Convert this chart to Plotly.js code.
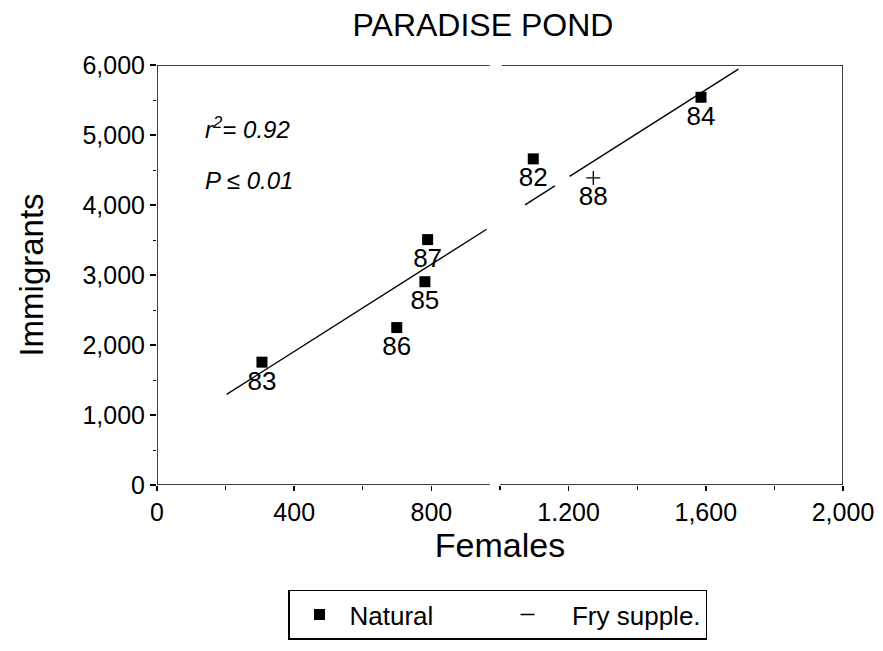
<!DOCTYPE html>
<html>
<head>
<meta charset="utf-8">
<script src="https://cdn.plot.ly/plotly-3.0.1.min.js"></script>
<style>html,body{margin:0;padding:0;background:#fff;}#chart{width:883px;height:651px;}</style>
</head>
<body>
<div id="chart"></div>
<script>
// Natural immigration years
const naturalYears = ["82", "83", "84", "85", "86", "87"];
const naturalFemales = [1097, 306, 1586, 781, 699, 789];
const naturalImmigrants = [4659, 1755, 5539, 2904, 2249, 3506];

// Fry supplemented year
const fryYears = ["88"];
const fryFemales = [1272];
const fryImmigrants = [4387];

// Regression line (with its printed gaps)
const fitFemales = [203, 961, null, 1073, 1160, null, 1203, 1695];
const fitImmigrants = [1294, 3654, null, 4003, 4274, null, 4408, 5940];

// Axis ticks
const xTickVals = [0, 400, 800, 1200, 1600, 2000];
const xTickText = ["0", "400", "800", "1.200", "1,600", "2,000"];
const yTickVals = [0, 1000, 2000, 3000, 4000, 5000, 6000];
const yTickText = ["0", "1,000", "2,000", "3,000", "4,000", "5,000", "6,000"];

const FONT = "Liberation Sans, Arial, sans-serif";
const ink = "#000";

const traces = [
  {
    x: fitFemales, y: fitImmigrants, mode: "lines", type: "scatter",
    line: {color: ink, width: 1.4}, showlegend: false, hoverinfo: "skip", connectgaps: false
  },
  {
    x: naturalFemales, y: naturalImmigrants, text: naturalYears,
    mode: "markers+text", type: "scatter", textposition: "bottom center",
    textfont: {family: FONT, size: 26, color: ink},
    marker: {symbol: "square", size: 11, color: ink},
    showlegend: false, cliponaxis: false
  },
  {
    x: fryFemales, y: fryImmigrants, text: fryYears,
    mode: "markers+text", type: "scatter", textposition: "bottom center",
    textfont: {family: FONT, size: 26, color: ink},
    marker: {symbol: "cross-thin-open", size: 10, color: ink, line: {color: ink, width: 1.3}},
    showlegend: false, cliponaxis: false
  },
  {
    x: [null], y: [null], name: "Natural", mode: "markers", type: "scatter",
    marker: {symbol: "square", size: 11, color: ink}
  },
  {
    x: [null], y: [null], name: "\u00a0\u00a0Fry supple.", mode: "markers", type: "scatter",
    marker: {symbol: "line-ew-open", size: 10, color: ink, line: {color: ink, width: 1.5}}
  }
];

const frameLine = {color: ink, width: 1.5};
const layout = {
  width: 883, height: 651,
  margin: {l: 157, r: 40, t: 65, b: 161},
  paper_bgcolor: "#fff", plot_bgcolor: "#fff",
  font: {family: FONT, color: ink},
  title: {
    text: "PARADISE POND", font: {family: FONT, size: 32, color: ink},
    x: 0.547, xref: "container", xanchor: "center",
    y: 0.962, yref: "container", yanchor: "middle"
  },
  xaxis: {
    range: [0, 2000], showgrid: false, zeroline: false, showline: false,
    tickvals: xTickVals, ticktext: xTickText,
    ticks: "outside", ticklen: 5, tickwidth: 1.5, tickcolor: ink,
    tickfont: {family: FONT, size: 25, color: ink},
    minor: {dtick: 200, tick0: 0, ticks: "outside", ticklen: 4, tickwidth: 1.2, tickcolor: ink},
    title: {text: "Females", font: {family: FONT, size: 34, color: ink}, standoff: 8},
    fixedrange: true
  },
  yaxis: {
    range: [0, 6000], showgrid: false, zeroline: false, showline: false,
    tickvals: yTickVals, ticktext: yTickText,
    ticks: "outside", ticklen: 6, tickwidth: 1.5, tickcolor: ink,
    tickfont: {family: FONT, size: 25, color: ink},
    minor: {dtick: 500, tick0: 0, ticks: "outside", ticklen: 3, tickwidth: 1, tickcolor: ink},
    title: {text: "Immigrants", font: {family: FONT, size: 33, color: ink}, standoff: 28},
    fixedrange: true
  },
  showlegend: true,
  legend: {
    orientation: "h", x: 0.191, xanchor: "left", y: -0.249, yanchor: "top",
    xref: "paper", yref: "paper",
    bordercolor: ink, borderwidth: 1.5, bgcolor: "#fff",
    font: {family: FONT, size: 26, color: ink},
    entrywidth: 143, itemwidth: 50
  },
  shapes: [
    {type: "line", xref: "x", yref: "y", x0: 0, x1: 0, y0: 0, y1: 6000, line: frameLine},
    {type: "line", xref: "x", yref: "y", x0: 0, x1: 970, y0: 0, y1: 0, line: frameLine},
    {type: "line", xref: "x", yref: "y", x0: 1000, x1: 2000, y0: 0, y1: 0, line: frameLine},
    {type: "line", xref: "x", yref: "y", x0: 0, x1: 970, y0: 6000, y1: 6000, line: frameLine},
    {type: "line", xref: "x", yref: "y", x0: 1005, x1: 2000, y0: 6000, y1: 6000, line: frameLine},
    {type: "line", xref: "x", yref: "y", x0: 2000, x1: 2000, y0: 0, y1: 6000, line: frameLine}
  ],
  annotations: [
    {text: "<i>r<sup>2</sup>= 0.92</i>", xref: "paper", yref: "paper", x: 0.067, y: 0.85,
     xanchor: "left", yanchor: "middle", showarrow: false, font: {family: FONT, size: 24, color: ink}},
    {text: "<i>P \u2264 0.01</i>", xref: "paper", yref: "paper", x: 0.067, y: 0.725,
     xanchor: "left", yanchor: "middle", showarrow: false, font: {family: FONT, size: 24, color: ink}}
  ]
};

Plotly.newPlot("chart", traces, layout, {displayModeBar: false, staticPlot: true});
</script>
</body>
</html>
